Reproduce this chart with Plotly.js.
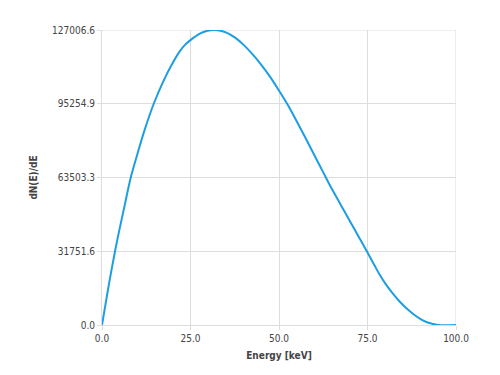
<!DOCTYPE html>
<html>
<head>
<meta charset="utf-8">
<script src="https://cdn.plot.ly/plotly-3.0.1.min.js"></script>
<style>html,body{margin:0;padding:0;background:#fff;}#chart{width:500px;height:375px;}</style>
</head>
<body>
<div id="chart"></div>
<script>
// Energy values (keV)
const energy = [0, 1.0, 2.0, 3.68, 5.0, 6.5, 8.11, 10.0, 12.0, 14.62, 17.25, 20.0, 22.0, 23.5, 25.0, 27.5, 29.5, 31.7, 33.5, 35.0, 37.5, 40.0, 42.5, 45.0, 47.5, 50.0, 52.5, 55.0, 57.5, 60.0, 62.5, 65.0, 67.5, 70.0, 72.5, 75.0, 77.0, 78.5, 80.0, 82.0, 84.0, 86.0, 88.0, 90.0, 92.0, 93.6, 95.0, 100];
// dN(E)/dE values
const dNdE = [0, 9000, 17900, 31751, 41585, 52235, 63400, 73600, 83800, 95255, 104700, 112900, 117900, 120700, 122650, 125296, 126537, 127006.6, 126699, 125970, 123814, 120600, 116600, 112000, 106800, 100900, 94700, 87700, 80500, 73100, 65700, 58400, 51600, 44800, 38000, 31200, 25600, 21500, 17900, 13800, 10230, 7180, 4630, 2580, 1080, 440, 0, 0];

const xTickVals = [0, 25, 50, 75, 100];
const xTickText = ['0.0', '25.0', '50.0', '75.0', '100.0'];
const yTickVals = [0, 31751.6, 63503.3, 95254.9, 127006.6];
const yTickText = ['0.0', '31751.6', '63503.3', '95254.9', '127006.6'];

const FONT = '"DejaVu Sans Condensed", "DejaVu Sans", sans-serif';

const trace = {
  x: energy,
  y: dNdE,
  type: 'scatter',
  mode: 'lines',
  line: {color: '#1d9ee0', width: 2, shape: 'spline', smoothing: 1},
  hoverinfo: 'none'
};

const layout = {
  width: 500,
  height: 375,
  margin: {l: 102, r: 44, t: 30, b: 50, pad: 0},
  paper_bgcolor: '#ffffff',
  plot_bgcolor: '#ffffff',
  showlegend: false,
  font: {family: FONT, size: 10, color: '#444'},
  xaxis: {
    range: [0, 100],
    tickvals: xTickVals,
    ticktext: xTickText,
    showgrid: true,
    gridcolor: '#dddddd',
    gridwidth: 1,
    zeroline: false,
    showline: true,
    linecolor: '#dddddd',
    linewidth: 1,
    ticks: 'outside',
    ticklen: 4,
    tickcolor: '#dddddd',
    tickfont: {family: FONT, size: 10, color: '#444'},
    title: {text: '<b>Energy [keV]</b>', font: {family: FONT, size: 10, color: '#444'}, standoff: 8},
    fixedrange: true
  },
  yaxis: {
    range: [0, 127006.6],
    tickvals: yTickVals,
    ticktext: yTickText,
    showgrid: true,
    gridcolor: '#dddddd',
    gridwidth: 1,
    zeroline: false,
    showline: true,
    linecolor: '#dddddd',
    linewidth: 1,
    ticks: 'outside',
    ticklen: 4,
    tickcolor: '#dddddd',
    tickfont: {family: FONT, size: 10, color: '#444'},
    title: {text: '<b>dN(E)/dE</b>', font: {family: FONT, size: 10, color: '#444'}, standoff: 12},
    fixedrange: true
  },
  shapes: [
    {type: 'line', xref: 'x', yref: 'paper', x0: 100, x1: 100, y0: 0, y1: 1, line: {color: '#dddddd', width: 1}, layer: 'below'},
    {type: 'line', xref: 'paper', yref: 'y', x0: 0, x1: 1, y0: 127006.6, y1: 127006.6, line: {color: '#dddddd', width: 1}, layer: 'below'}
  ]
};

Plotly.newPlot('chart', [trace], layout, {displayModeBar: false, staticPlot: true});
</script>
</body>
</html>
